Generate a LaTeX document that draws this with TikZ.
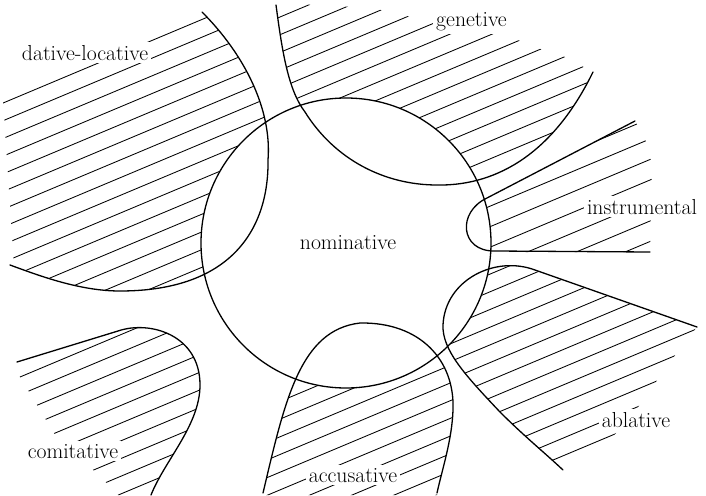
\documentclass[tikz,border=0pt]{standalone}
\usepackage{fontspec}
\newcommand\myhatch[4]{%
  \foreach \k in {#3,...,#4} {\draw[hatchline] (0,{#1+#2*\k}) -- (720,{#1+#2*\k-302.4});}}
\begin{document}
\begin{tikzpicture}[x=1pt,y=-1pt,
  bound/.style={line width=1.3pt, line join=round, line cap=round},
  hatchline/.style={line width=0.85pt},
  lbl/.style={fill=white, inner sep=3pt, anchor=base, font=\fontsize{21.7}{26}\selectfont}]
\useasboundingbox (0,0) rectangle (706,495);

% ---------- hatching ----------
% dative-locative
\begin{scope}
\clip (3,100) -- (204,8) -- (202,12) .. controls (245,55) and (272,110) .. (268,160)
  .. controls (269,225) and (235,291) .. (120,291)
  .. controls (80,291) and (40,276) .. (10,265) -- (14,266) -- cycle;
\myhatch{104.3}{17.7}{0}{16}
\end{scope}
% genetive
\begin{scope}
\clip (276,5) .. controls (282,50) and (288,90) .. (305,112)
  .. controls (335,160) and (385,185) .. (437,185)
  .. controls (490,186) and (550,160) .. (593,72)
  -- (563,56) -- (537,48) -- (513,38) -- (430,20) -- (400,15) -- (373,8) -- (276,3) -- cycle;
\myhatch{134.6}{17.7}{-1}{14}
\end{scope}
% instrumental
\begin{scope}
\clip (487,198) -- (635,121) -- (645,138) -- (652,165) -- (650,252) -- (480,252) -- (480,198) -- cycle;
\myhatch{412}{20.5}{-2}{6}
\end{scope}
% ablative
\begin{scope}
\clip (697,327) -- (535,270) .. controls (495,255) and (445,280) .. (443,325)
  .. controls (442,350) and (465,375) .. (500,412)
  .. controls (525,437) and (545,453) .. (563,470)
  -- (590,452) -- (612,437) -- (625,424) -- (645,398) -- (662,373) -- (684,343) -- cycle;
\myhatch{533}{17.7}{-4}{10}
\end{scope}
% accusative
\begin{scope}
\clip (263,495) .. controls (285,400) and (300,330) .. (360,323)
  .. controls (420,322) and (455,360) .. (453,410)
  .. controls (452,440) and (442,470) .. (437,495) -- cycle;
\myhatch{536.7}{17.7}{-2}{8}
\end{scope}
% comitative
\begin{scope}
\clip (17,362) -- (118,331) .. controls (150,320) and (200,335) .. (200,385)
  .. controls (200,425) and (165,460) .. (151,495)
  -- (118,495) -- (100,476) -- (57,438) -- (20,377) -- (14,366) -- cycle;
\myhatch{385.4}{17.7}{-1}{10}
\end{scope}

% nominative circle interior stays blank
\fill[white] (346,243) circle (145);

% ---------- boundaries ----------
\draw[bound] (202,12) .. controls (245,55) and (272,110) .. (268,160)
  .. controls (269,225) and (235,291) .. (120,291)
  .. controls (80,291) and (40,276) .. (10,265);
\draw[bound] (276,5) .. controls (282,50) and (288,90) .. (305,112)
  .. controls (335,160) and (385,185) .. (437,185)
  .. controls (490,186) and (550,160) .. (593,72);
\draw[bound] (635,121) -- (487,198) .. controls (457,212) and (460,251) .. (494,251) -- (650,252);
\draw[bound] (697,327) -- (535,270) .. controls (495,255) and (445,280) .. (443,325)
  .. controls (442,350) and (465,375) .. (500,412)
  .. controls (525,437) and (545,453) .. (563,470);
\draw[bound] (263,493) .. controls (285,400) and (300,330) .. (360,323)
  .. controls (420,322) and (455,360) .. (453,410)
  .. controls (452,440) and (442,470) .. (437,493);
\draw[bound] (17,362) -- (118,331) .. controls (150,320) and (200,335) .. (200,385)
  .. controls (200,425) and (165,460) .. (151,495);
\draw[bound] (346,243) circle (145);

% ---------- labels ----------
\node[lbl] (dl) at (85,60) {dative-locative};
\node[lbl] (gen) at (471.5,27) {genetive};
\node[lbl] (ins) at (642,214) {instrumental};
\node[lbl, fill=none] (nom) at (348,249) {nominative};
\node[lbl] (abl) at (636,427) {ablative};
\node[lbl] (com) at (73,458) {comitative};
\node[lbl] (acc) at (353,482) {accusative};
\end{tikzpicture}
\end{document}
